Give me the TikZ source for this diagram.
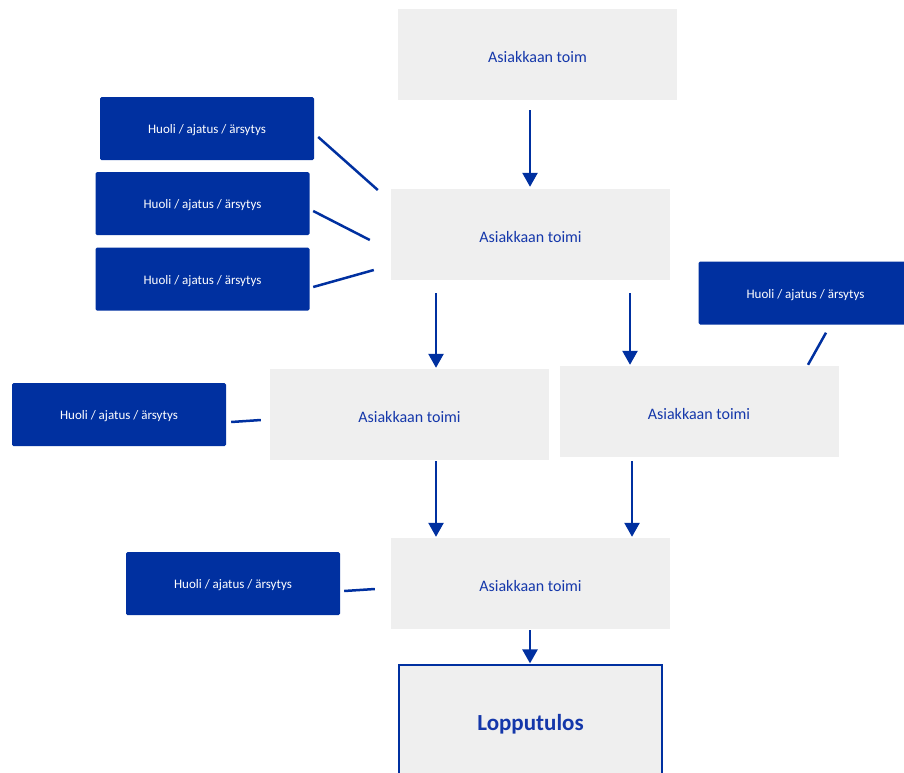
\documentclass[tikz,border=0pt]{standalone}
\usepackage{fontspec}
\setmainfont{Carlito}
\usetikzlibrary{arrows.meta,calc}
\definecolor{dblue}{RGB}{0,48,160}
\definecolor{tblue}{RGB}{20,55,170}
\definecolor{lgray}{RGB}{239,239,239}
\newcommand{\lowtxt}[1]{\raisebox{-2pt}[\height][\depth]{#1}}
\tikzset{
  gbox/.style={fill=lgray, draw=none, minimum width=279pt, minimum height=91pt, inner sep=0pt,
    text=tblue, font=\fontsize{16}{19}\selectfont},
  bbox/.style={fill=dblue, draw=none, rounded corners=1.5pt, minimum width=214pt, minimum height=63pt, inner sep=0pt,
    text=white, font=\fontsize{13}{16}\selectfont},
  arr/.style={draw=dblue, line width=2.5pt, -{Triangle[width=15pt,length=14pt]}},
  conn/.style={draw=dblue, line width=2.5pt},
}
\begin{document}
\begin{tikzpicture}[x=1pt,y=-1pt]
\clip (0,0) rectangle (904,772);
\useasboundingbox (0,0) rectangle (904,772);
% gray boxes
\node[gbox] (A0) at (537.5,54.5) {\lowtxt{Asiakkaan toim}};
\node[gbox] (A1) at (530.5,234.5) {\lowtxt{Asiakkaan toimi}};
\node[gbox] (A2) at (409.5,414.5) {\lowtxt{Asiakkaan toimi}};
\node[gbox] (A3) at (699,411.5) {\lowtxt{Asiakkaan toimi}};
\node[gbox] (A4) at (530.5,583.5) {\lowtxt{Asiakkaan toimi}};
\node[fill=lgray, draw=dblue, line width=1.2pt, minimum width=263pt, minimum height=114pt, inner sep=0pt,
  text=tblue, font=\fontsize{23}{27}\selectfont\bfseries] (L) at (530.5,722) {\lowtxt{Lopputulos}};
% blue boxes
\node[bbox] (B1) at (207,128.5) {\lowtxt{Huoli / ajatus / ärsytys}};
\node[bbox] (B2) at (202.5,203.5) {\lowtxt{Huoli / ajatus / ärsytys}};
\node[bbox] (B3) at (202.5,279) {\lowtxt{Huoli / ajatus / ärsytys}};
\node[bbox] (B4) at (805.5,293) {\lowtxt{Huoli / ajatus / ärsytys}};
\node[bbox] (B5) at (119,414.5) {\lowtxt{Huoli / ajatus / ärsytys}};
\node[bbox] (B6) at (233,583.5) {\lowtxt{Huoli / ajatus / ärsytys}};
% arrows
\draw[arr] ($(A0.south)+(-7.5,10)$) -- ($(A1.north)+(-0.5,-2)$);
\draw[arr] ($(A1.south)+(-94.5,13)$) -- ($(A2.north)+(26.5,-1)$);
\draw[arr] ($(A1.south)+(99.5,13)$) -- ($(A3.north)+(-69,-1)$);
\draw[arr] ($(A2.south)+(26.5,1)$) -- ($(A4.north)+(-94.5,-1)$);
\draw[arr] ($(A3.south)+(-67,4)$) -- ($(A4.north)+(101.5,-1)$);
\draw[arr] ($(A4.south)+(-0.5,1)$) -- ($(L.north)+(-0.5,-1)$);
% connectors
\draw[conn] ($(B1.east)+(4,8.5)$) -- ($(A1.west)+(-13,-44.5)$);
\draw[conn] ($(B2.east)+(3.5,7.5)$) -- ($(A1.west)+(-21,5.5)$);
\draw[conn] ($(B3.east)+(3.5,8)$) -- ($(A1.west)+(-17,35.5)$);
\draw[conn] ($(B4.south)+(20.5,8)$) -- ($(A3.north)+(109,-1)$);
\draw[conn] ($(B5.east)+(5,7.5)$) -- ($(A2.west)+(-9,5.5)$);
\draw[conn] ($(B6.east)+(4,7.5)$) -- ($(A4.west)+(-16,5.5)$);
\end{tikzpicture}
\end{document}
